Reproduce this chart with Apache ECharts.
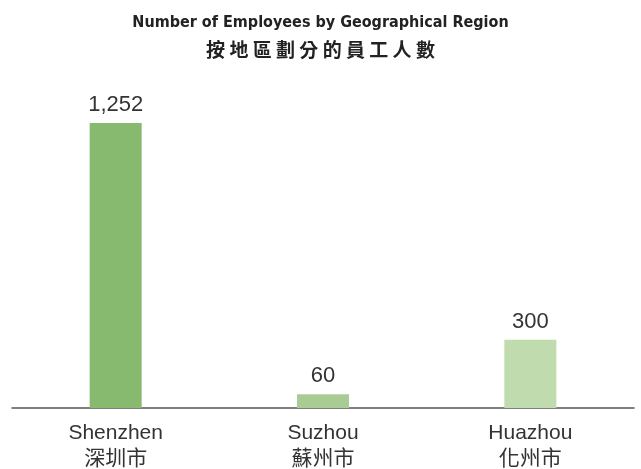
<!DOCTYPE html>
<html>
<head>
<meta charset="utf-8">
<script src="https://cdn.jsdelivr.net/npm/echarts@6/dist/echarts.min.js"></script>
<style>
  html, body { margin: 0; padding: 0; background: #fff; }
  #chart1 { width: 641px; height: 469px; }
</style>
</head>
<body>
<div id="chart1"></div>
<script>
const titleEn = "Number of Employees by Geographical Region";
const titleZh = "按地區劃分的員工人數";
const regionsEn = ["Shenzhen", "Suzhou", "Huazhou"];
const regionsZh = ["深圳市", "蘇州市", "化州市"];
const employees = [1252, 60, 300];
const barColors = ["#87ba6f", "#a8cc94", "#c0dbae"];

const chart1 = () => {
  const option = {
    animation: false,
    title: [
      {
        text: titleEn,
        left: "center",
        top: 10,
        textStyle: {
          fontFamily: "'DejaVu Sans Condensed', sans-serif",
          fontWeight: "bold",
          fontSize: 16,
          color: "#222",
        },
      },
      {
        // a little space between the characters, like the reference
        text: titleZh.split("").join(" "),
        left: "center",
        top: 35,
        textStyle: {
          fontFamily: "'Noto Sans CJK TC', sans-serif",
          fontWeight: "bold",
          fontSize: 19,
          color: "#222",
        },
      },
    ],
    grid: {
      left: 12,
      right: 7,
      top: 123,
      bottom: 61,
      outerBoundsMode: "none",
      containLabel: false,
    },
    xAxis: {
      type: "category",
      data: regionsEn.map((n, i) => n + "\n" + regionsZh[i]),
      axisLine: { lineStyle: { color: "#555", width: 1.5 } },
      axisTick: { show: false },
      axisLabel: {
        margin: 12,
        fontSize: 21,
        lineHeight: 26,
        color: "#333",
        fontFamily: "'Liberation Sans', 'Noto Sans CJK TC', sans-serif",
      },
    },
    yAxis: {
      type: "value",
      min: 0,
      max: 1252,
      show: false,
      splitLine: { show: false },
    },
    series: [
      {
        type: "bar",
        barWidth: 52,
        data: employees.map((v, i) => ({
          value: v,
          itemStyle: { color: barColors[i] },
        })),
        label: {
          show: true,
          position: "top",
          distance: 7,
          fontSize: 22,
          color: "#333",
          fontFamily: "'Liberation Sans', sans-serif",
          formatter: (p) => p.value.toLocaleString("en-US"),
        },
      },
    ],
  };
  let myChart = echarts.init(document.getElementById("chart1"));
  myChart.setOption(option);
};
chart1();
</script>
</body>
</html>
